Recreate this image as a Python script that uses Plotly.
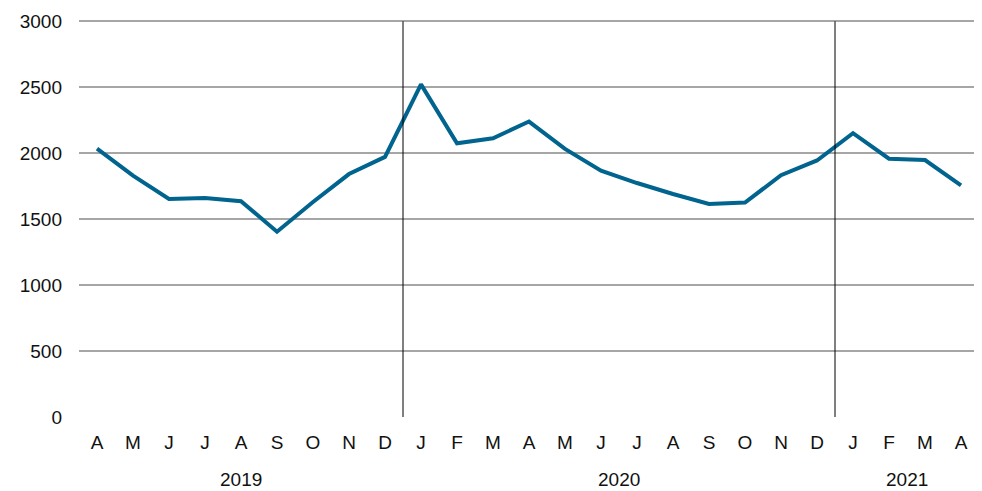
import plotly.graph_objects as go

months = ["A", "M", "J", "J", "A", "S", "O", "N", "D",
          "J", "F", "M", "A", "M", "J", "J", "A", "S", "O", "N", "D",
          "J", "F", "M", "A"]
values = [2035, 1830, 1653, 1661, 1636, 1405, 1630, 1842, 1972,
          2522, 2075, 2113, 2240, 2033, 1867, 1774, 1691, 1615, 1626, 1833, 1945,
          2152, 1958, 1948, 1756]
years = ["2019", "2020", "2021"]
year_centers = [4, 14.5, 22.5]
separators = [8.5, 20.5]
y_ticks = [0, 500, 1000, 1500, 2000, 2500, 3000]

x = list(range(len(months)))

fig = go.Figure()
fig.add_trace(go.Scatter(
    x=x, y=values, mode="lines",
    line=dict(color="#00648F", width=4),
    hoverinfo="skip", showlegend=False,
))

for s in separators:
    fig.add_shape(type="line", xref="x", yref="y", x0=s, x1=s, y0=0, y1=3000,
                  line=dict(color="black", width=1), layer="above")

for yr, c in zip(years, year_centers):
    fig.add_annotation(x=c, y=-0.158, xref="x", yref="paper", text=yr,
                       showarrow=False, yanchor="middle",
                       font=dict(family="Liberation Sans, Arial", size=19, color="#111111"))

fig.update_layout(
    width=974, height=483,
    margin=dict(l=71, r=3, t=10, b=74),
    plot_bgcolor="white", paper_bgcolor="white",
    font=dict(family="Liberation Sans, Arial", size=19, color="#111111"),
    xaxis=dict(range=[-0.5, 24.5], tickmode="array", tickvals=x, ticktext=months,
               showgrid=False, zeroline=False, showline=False, ticks="",
               ticklabelstandoff=12, fixedrange=True),
    yaxis=dict(range=[0, 3010], tickmode="array", tickvals=y_ticks,
               showgrid=True, gridcolor="#A6A6A6", gridwidth=1.5,
               zeroline=False, showline=False, ticks="",
               ticklabelstandoff=16, fixedrange=True),
)

fig.write_html("out.html")
